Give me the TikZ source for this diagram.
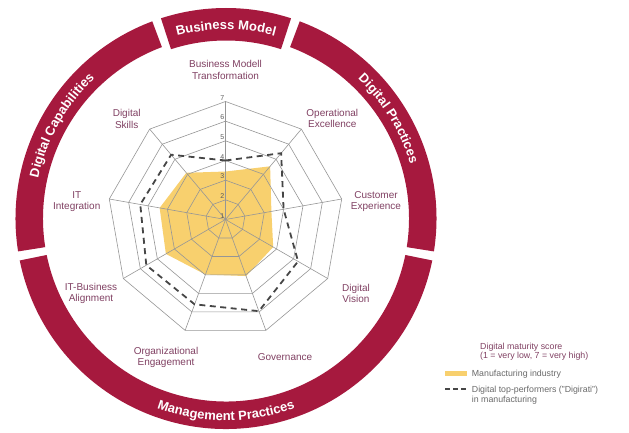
\documentclass[tikz,border=0pt]{standalone}
\usepackage{fontspec}
\setmainfont{Liberation Sans}
\usetikzlibrary{decorations.text}
\definecolor{ringred}{RGB}{166,25,62}
\definecolor{labc}{RGB}{128,64,98}
\definecolor{manu}{RGB}{248,208,110}
\definecolor{gridc}{RGB}{150,150,150}
\definecolor{digic}{RGB}{70,70,70}
\definecolor{legc}{RGB}{105,105,105}
\begin{document}
\begin{tikzpicture}[x=1pt,y=1pt,
  gridline/.style={draw=gridc, line width=0.6pt},
  digi/.style={draw=digic, line width=1.8pt, dash pattern=on 6pt off 4.5pt},
  manufill/.style={fill=manu},
  ringseg/.style={fill=ringred},
  axlab/.style={text=labc, font=\fontsize{10}{11.6}\selectfont, align=center, inner sep=0pt},
  numlab/.style={text=black!65, font=\fontsize{7}{7}\selectfont, inner sep=1pt, anchor=south east},
  legtxt/.style={text=legc, font=\fontsize{8.8}{10}\selectfont, inner sep=0pt, anchor=base west},
  leghead/.style={legtxt, text=labc},
  ringtext/.style={decorate, decoration={text along path, text align=center, text color=white, text={|\fontsize{13}{13}\selectfont\bfseries|#1}}}
]
\useasboundingbox (0,0) rectangle (629,432);
\coordinate (C) at (225.5,212.5);
\coordinate (RC) at (226,213.5);
\def\U{19.667}

% outer ring segments
\begin{scope}[shift={(RC)}]
  \fill[ringseg] (72:210.5) arc[start angle=72,end angle=108,radius=210.5] -- (108:178) arc[start angle=108,end angle=72,radius=178] -- cycle;
  \fill[ringseg] (110.5:210.5) arc[start angle=110.5,end angle=189,radius=210.5] -- (189:183) arc[start angle=189,end angle=110.5,radius=183] -- cycle;
  \fill[ringseg] (191.5:210.5) arc[start angle=191.5,end angle=348.5,radius=210.5] -- (348.5:183) arc[start angle=348.5,end angle=191.5,radius=183] -- cycle;
  \fill[ringseg] (-9:210.5) arc[start angle=-9,end angle=69.5,radius=210.5] -- (69.5:183) arc[start angle=69.5,end angle=-9,radius=183] -- cycle;
  \path[ringtext=Business Model] (110:189) arc[start angle=110,end angle=70,radius=189];
  \path[ringtext=Digital Practices] (62:192) arc[start angle=62,end angle=1,radius=192];
  \path[ringtext=Digital Capabilities] (185:192) arc[start angle=185,end angle=116,radius=192];
  \path[ringtext=Management Practices] (225:202) arc[start angle=225,end angle=315,radius=202];
\end{scope}

% radar
\begin{scope}[shift={(C)}]
  \fill[manufill] (90:{2.44*\U}) -- (50:{3.53*\U}) -- (10:{2.37*\U}) -- (-30:{2.8*\U}) -- (-70:{3.06*\U}) -- (-110:{2.98*\U}) -- (-150:{3.5*\U}) -- (170:{3.4*\U}) -- (130:{3.1*\U}) -- cycle;
  \foreach \k in {1,...,6}
    \draw[gridline] (90:{\k*\U}) foreach \a in {50,10,-30,-70,-110,-150,-190,-230} {-- (\a:{\k*\U})} -- cycle;
  \foreach \a in {90,50,10,-30,-70,-110,-150,-190,-230}
    \draw[gridline] (0,0) -- (\a:{6*\U});
  \draw[digi] (90:{3*\U}) -- (50:{4.4*\U}) -- (10:{3*\U}) -- (-30:{4.26*\U}) -- (-70:{4.96*\U}) -- (-110:{4.59*\U}) -- (-150:{4.65*\U}) -- (170:{4.4*\U}) -- (130:{4.3*\U}) -- cycle;
  \foreach \k in {1,...,7}
    \node[numlab] (num\k) at (90:{(\k-1)*\U}) {\k};
\end{scope}

% axis labels
\node[axlab] (bmt) at (225.5,362) {Business Modell\\Transformation};
\node[axlab] (oe) at (332.3,313.5) {Operational\\Excellence};
\node[axlab] (ce) at (376,230.5) {Customer\\Experience};
\node[axlab] (dv) at (356,138.5) {Digital\\Vision};
\node[axlab] (gov) at (285,74.5) {Governance};
\node[axlab] (oen) at (166,74.5) {Organizational\\Engagement};
\node[axlab] (itba) at (91,138.5) {IT-Business\\Alignment};
\node[axlab] (iti) at (76.7,230.5) {IT\\Integration};
\node[axlab] (ds) at (126.7,313) {Digital\\Skills};

% legend
\node[leghead] (lh1) at (480,82.8) {Digital maturity score};
\node[leghead] (lh2) at (480,73.3) {(1 = very low, 7 = very high)};
\fill[manu] (445,56) rectangle (467,61.3);
\node[legtxt] (lm) at (471.7,55.5) {Manufacturing industry};
\draw[draw=digic, line width=2pt, dash pattern=on 5pt off 3pt] (445,43.5) -- (467,43.5);
\node[legtxt] (ld1) at (471.7,39.8) {Digital top-performers ("Digirati")};
\node[legtxt] (ld2) at (471.7,29.3) {in manufacturing};
\end{tikzpicture}
\end{document}
